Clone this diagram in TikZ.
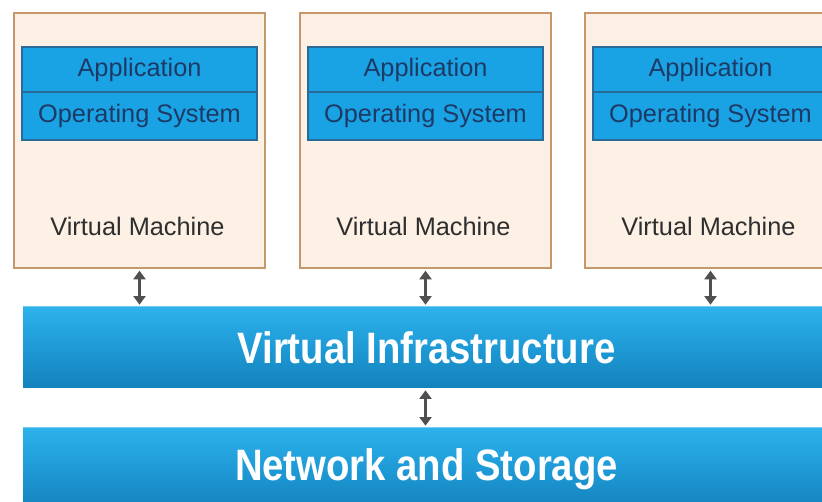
\documentclass[tikz,border=0pt]{standalone}
\usepackage{fontspec}
\setmainfont{Liberation Sans}
\usetikzlibrary{arrows.meta}
\definecolor{vmfill}{HTML}{FDF1E6}
\definecolor{vmedge}{HTML}{C4986A}
\definecolor{layerblue}{HTML}{1AA3E4}
\definecolor{layeredge}{HTML}{2A6A96}
\definecolor{layertext}{HTML}{1D3A66}
\definecolor{bartop}{HTML}{2DB2EA}
\definecolor{barmid}{HTML}{1E9AD6}
\definecolor{barbot}{HTML}{1482BC}
\definecolor{arrowgray}{HTML}{505050}
\definecolor{vmtext}{HTML}{2E2E2E}
\tikzset{
  vmbox/.style={draw=vmedge, line width=1pt, fill=vmfill, minimum width=188.25pt,
    minimum height=191.25pt, inner sep=0pt},
  layer/.style={draw=layeredge, line width=0.8pt, fill=layerblue, minimum width=176.25pt,
    inner sep=0pt, text=layertext, font=\fontsize{19}{22}\selectfont},
  vmlabel/.style={text=vmtext, font=\fontsize{19}{22}\selectfont, inner sep=0pt},
  bar/.style={minimum width=605.25pt, inner sep=0pt, top color=bartop, bottom color=barbot,
    middle color=barmid, text=white, font=\fontsize{33}{38}\selectfont\bfseries},
  link/.style={draw=arrowgray, line width=2.2pt,
    {Triangle[width=9pt,length=6.5pt]}-{Triangle[width=9pt,length=6.5pt]},
    shorten <=1.5pt, shorten >=1.5pt}
}
\begin{document}
\begin{tikzpicture}[x=0.75pt,y=-0.75pt]
\useasboundingbox (0,0) rectangle (822,502);
\fill[white] (0,0) rectangle (822,502);
\clip (0,0) rectangle (822,502);

% three virtual machines
\foreach \i/\cx in {1/139.5, 2/425.5, 3/710.5} {
  \node[vmbox] (vm\i) at (\cx,140.5) {};
  \node[layer, minimum height=33.75pt] (app\i) at (\cx,69.5) {Application};
  \node[layer, minimum height=36pt] (os\i) at (\cx,116) {Operating System};
  \node[vmlabel] (vml\i) at (\cx-2,226) {Virtual Machine};
}

% shared layers
\node[bar, minimum height=60.75pt] (infra) at (426.5,347.5)
  {\scalebox{0.87}[1]{Virtual Infrastructure}};
\node[bar, minimum height=61.5pt] (net) at (426.5,469)
  {\scalebox{0.87}[1]{Network and Storage}};
\draw[white, opacity=0.35, line width=0.8pt] (infra.north west) -- (infra.north east);
\draw[white, opacity=0.35, line width=0.8pt] (net.north west) -- (net.north east);

% connectors
\foreach \i in {1,2,3}
  \draw[link] (vm\i.south) -- (vm\i.south |- infra.north);
\draw[link] (infra.south -| vm2.south) -- (net.north -| vm2.south);
\end{tikzpicture}
\end{document}
